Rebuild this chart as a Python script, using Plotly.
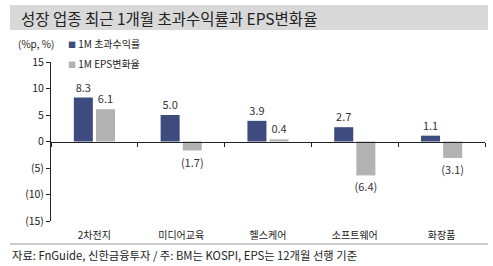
import plotly.graph_objects as go

categories = ["2차전지", "미디어교육", "헬스케어", "소프트웨어", "화장품"]
excess_return = [8.3, 5.0, 3.9, 2.7, 1.1]
eps_change = [6.1, -1.7, 0.4, -6.4, -3.1]
series_names = ["1M 초과수익률", "1M EPS변화율"]
y_ticks = [15, 10, 5, 0, -5, -10, -15]
y_tick_labels = ["15", "10", "5", "0", "(5)", "(10)", "(15)"]
title = "성장 업종 최근 1개월 초과수익률과 EPS변화율"
unit = "(%p, %)"
footer = "자료: FnGuide, 신한금융투자 / 주: BM는 KOSPI, EPS는 12개월 선행 기준"

NAVY = "#3e4b7e"
GRAY = "#b2b2b2"
FONT = "Noto Sans CJK KR"


def fmt(v):
    return f"({abs(v):.1f})" if v < 0 else f"{v:.1f}"


fig = go.Figure()
for name, vals, col in [(series_names[0], excess_return, NAVY), (series_names[1], eps_change, GRAY)]:
    fig.add_trace(go.Bar(
        x=categories, y=vals, name=name, marker_color=col, marker_line_width=0,
        text=[fmt(v) for v in vals], textposition="outside", constraintext="none",
        textfont=dict(size=11, color="#333333", family=FONT), cliponaxis=False,
    ))

W, H = 493, 266
L, R, T, B = 51, 8, 62, 45
pw, ph = W - L - R, H - T - B


def px(x):
    return (x - L) / pw


def py(y):
    return (H - B - y) / ph


fig.update_layout(
    width=W, height=H, margin=dict(l=L, r=R, t=T, b=B),
    paper_bgcolor="white", plot_bgcolor="white",
    barmode="group", bargap=0.49, bargroupgap=0.14,
    showlegend=False,
    font=dict(family=FONT, color="#333333", size=10),
    xaxis=dict(
        anchor="free", position=0.5, showline=True, linecolor="#222222", linewidth=1,
        ticks="outside", tickson="boundaries", ticklen=4, tickcolor="#222222",
        showgrid=False, ticklabelstandoff=84,
        tickfont=dict(size=10, color="#222222", family=FONT),
    ),
    yaxis=dict(
        range=[-15, 15], tickvals=y_ticks, ticktext=y_tick_labels,
        showline=True, linecolor="#222222", linewidth=1,
        ticks="outside", ticklen=4, tickcolor="#222222", showgrid=False, zeroline=False,
        tickfont=dict(size=10.5, color="#222222", family=FONT),
    ),
    shapes=[
        dict(type="rect", xref="paper", yref="paper", x0=px(10), x1=px(488), y0=py(30), y1=py(5),
             fillcolor="#d9d9d9", line_width=0, layer="below"),
        dict(type="line", xref="paper", yref="paper", x0=px(10), x1=px(488), y0=py(244), y1=py(244),
             line=dict(color="#999999", width=1)),
    ],
    annotations=[
        dict(text=title, xref="paper", yref="paper", x=px(19), y=py(18), xanchor="left", yanchor="middle",
             showarrow=False, font=dict(size=15.5, color="#222222", family=FONT)),
        dict(text=unit, xref="paper", yref="paper", x=px(16), y=py(43), xanchor="left", yanchor="middle",
             showarrow=False, font=dict(size=10, color="#222222", family=FONT)),
        dict(text=f"<span style='color:{NAVY};font-size:8px'>■</span> {series_names[0]}", xref="paper", yref="paper",
             x=px(66), y=py(43), xanchor="left", yanchor="middle",
             showarrow=False, font=dict(size=10, color="#222222", family=FONT)),
        dict(text=f"<span style='color:{GRAY};font-size:8px'>■</span> {series_names[1]}", xref="paper", yref="paper",
             x=px(66), y=py(63), xanchor="left", yanchor="middle",
             showarrow=False, font=dict(size=10, color="#222222", family=FONT)),
        dict(text=footer, xref="paper", yref="paper", x=px(10), y=py(255), xanchor="left", yanchor="middle",
             showarrow=False, font=dict(size=11.3, color="#222222", family=FONT)),
    ],
)

fig.write_html("out.html")
